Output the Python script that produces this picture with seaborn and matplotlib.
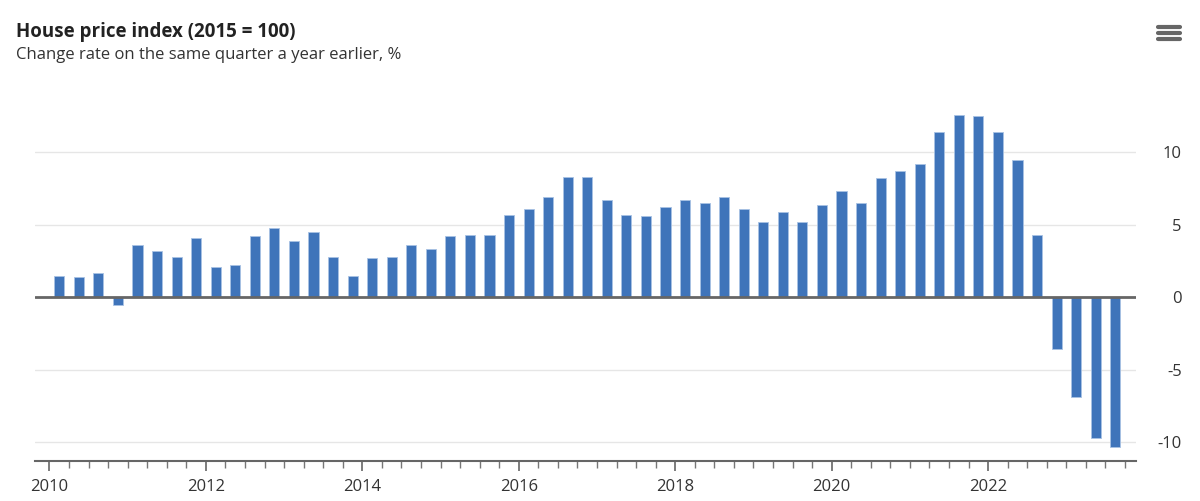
import matplotlib
matplotlib.use('Agg')
import matplotlib.pyplot as plt
from matplotlib.lines import Line2D
import seaborn as sns

# Квартальные данные: 2010 Q1 - 2023 Q3
years = list(range(2010, 2024))
quarters = [f"{y}Q{q}" for y in years for q in range(1, 5)][:55]
change = [
    1.5, 1.4, 1.7, -0.5,
    3.6, 3.2, 2.8, 4.1,
    2.1, 2.2, 4.2, 4.8,
    3.9, 4.5, 2.8, 1.5,
    2.7, 2.8, 3.6, 3.3,
    4.2, 4.3, 4.3, 5.7,
    6.1, 6.9, 8.3, 8.3,
    6.7, 5.7, 5.6, 6.2,
    6.7, 6.5, 6.9, 6.1,
    5.2, 5.9, 5.2, 6.4,
    7.3, 6.5, 8.2, 8.7,
    9.2, 11.4, 12.6, 12.5,
    11.4, 9.5, 4.3, -3.6,
    -6.9, -9.7, -10.3,
]
tick_years = [2010, 2012, 2014, 2016, 2018, 2020, 2022]
y_ticks = [-10, -5, 0, 5, 10]

sns.set_style('white')
plt.rcParams['font.family'] = ['Open Sans', 'DejaVu Sans']
plt.rcParams['axes.unicode_minus'] = False

fig = plt.figure(figsize=(12, 5.01), dpi=100)
ax = fig.add_axes([35 / 1200, 1 - 461 / 501, (1136 - 35) / 1200, 355 / 501])

sns.barplot(x=quarters, y=change, color='#3f74ba', saturation=1, width=0.52,
            edgecolor='#a8c2e4', linewidth=0.6, ax=ax, zorder=2)

ax.set_xlim(-1.24, 55.06)
ax.set_ylim(-11.3, 13.2)

# Сетка и нулевая линия
ax.set_yticks(y_ticks)
ax.grid(axis='y', color='#e6e6e6', linewidth=1, zorder=0)
ax.grid(axis='x', visible=False)
ax.set_axisbelow(True)
ax.axhline(0, color='#666666', linewidth=2, zorder=3)

for side in ['top', 'left', 'right']:
    ax.spines[side].set_visible(False)
ax.spines['bottom'].set_color('#666666')
ax.spines['bottom'].set_linewidth(1.5)

# Ось X: подписи годов и деления по кварталам
ax.set_xticks([-0.5 + 4 * (y - 2010) for y in tick_years])
ax.set_xticklabels([str(y) for y in tick_years])
ax.set_xticks([-0.5 + k for k in range(56)], minor=True)
ax.tick_params(axis='x', which='major', length=7, width=1.2, color='#666666',
               labelsize=12, labelcolor='#333333', pad=6, bottom=True)
ax.tick_params(axis='x', which='minor', length=5, width=1, color='#777777', bottom=True)

# Ось Y справа
ax.yaxis.tick_right()
ax.tick_params(axis='y', length=0, pad=33, labelsize=12, labelcolor='#333333')
for lbl in ax.get_yticklabels():
    lbl.set_horizontalalignment('right')
ax.set_xlabel('')
ax.set_ylabel('')

fig.text(16 / 1200, 1 - 37 / 501, 'House price index (2015 = 100)', fontsize=13.5,
         fontweight='bold', color='#222222', va='baseline')
fig.text(16 / 1200, 1 - 59 / 501, 'Change rate on the same quarter a year earlier, %',
         fontsize=12, color='#333333', va='baseline')

# Значок меню
for yy in [27, 33, 39]:
    fig.add_artist(Line2D([1158 / 1200, 1180 / 1200], [1 - yy / 501, 1 - yy / 501],
                          color='#666666', linewidth=3, solid_capstyle='round'))

plt.savefig('out.png', dpi=100)
plt.close()
